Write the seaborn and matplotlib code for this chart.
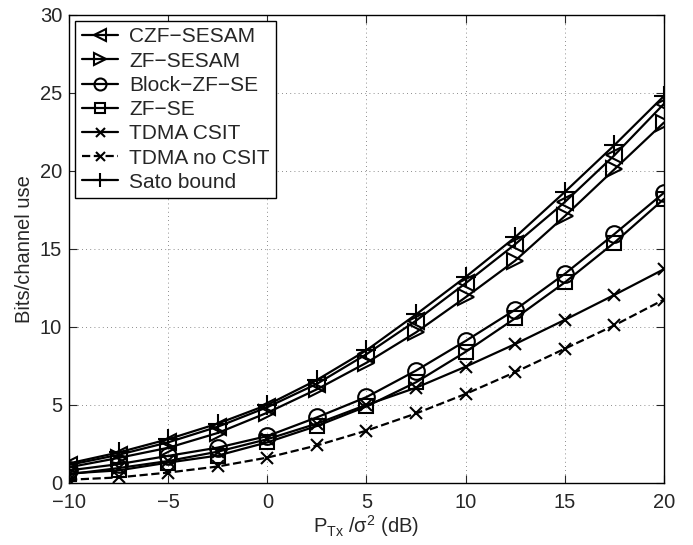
import numpy as np
import pandas as pd
import seaborn as sns
import matplotlib.pyplot as plt

# SNR points (dB)
snr = [-10, -7.5, -5, -2.5, 0, 2.5, 5, 7.5, 10, 12.5, 15, 17.5, 20]

# rates (bits/channel use)
czf_sesam = [1.15, 1.8, 2.6, 3.6, 4.85, 6.35, 8.25, 10.4, 12.8, 15.3, 18.0, 21.0, 24.3]
zf_sesam = [1.0, 1.6, 2.25, 3.2, 4.5, 6.0, 7.7, 9.65, 11.9, 14.25, 17.1, 20.1, 23.1]
block_zf_se = [0.8, 1.2, 1.73, 2.26, 3.0, 4.2, 5.5, 7.2, 9.1, 11.1, 13.4, 15.95, 18.6]
zf_se = [0.6, 0.8, 1.3, 1.75, 2.6, 3.65, 4.9, 6.45, 8.4, 10.55, 12.85, 15.4, 18.2]
tdma_csit = [0.55, 0.95, 1.4, 2.0, 2.8, 3.8, 5.0, 6.1, 7.45, 8.9, 10.45, 12.05, 13.7]
tdma_no_csit = [0.2, 0.35, 0.66, 1.05, 1.62, 2.4, 3.35, 4.45, 5.7, 7.1, 8.6, 10.1, 11.75]
sato = [1.25, 1.95, 2.8, 3.8, 5.0, 6.6, 8.5, 10.8, 13.2, 15.75, 18.65, 21.65, 24.8]

names = ["CZF\u2212SESAM", "ZF\u2212SESAM", "Block\u2212ZF\u2212SE", "ZF\u2212SE",
         "TDMA CSIT", "TDMA no CSIT", "Sato bound"]
series = [czf_sesam, zf_sesam, block_zf_se, zf_se, tdma_csit, tdma_no_csit, sato]
markers = ["<", ">", "o", "s", "x", "x", "+"]
styles = ["-", "-", "-", "-", "-", "--", "-"]
sizes = [12, 12, 12, 10, 9, 9, 14]

sns.set_style("ticks")
plt.rcParams["font.family"] = ["Liberation Sans", "DejaVu Sans"]
plt.rcParams["mathtext.default"] = "regular"

fig = plt.figure(figsize=(6.93, 5.45), dpi=100)
ax = fig.add_axes([0.0996, 0.114, 0.8584, 0.8585])

for name, vals, m, ls, ms in zip(names, series, markers, styles, sizes):
    sns.lineplot(x=snr, y=vals, ax=ax, color="black", linestyle=ls, linewidth=1.6,
                 marker=m, markersize=ms, markerfacecolor="none", markeredgecolor="black",
                 markeredgewidth=1.5, label=name)

ax.set_xlim(-10, 20)
ax.set_ylim(0, 30)
ax.set_xticks([-10, -5, 0, 5, 10, 15, 20])
ax.set_xticklabels(["\u221210", "\u22125", "0", "5", "10", "15", "20"])
ax.set_yticks([0, 5, 10, 15, 20, 25, 30])
ax.tick_params(direction="in", length=6, width=0.8, labelsize=14.5, top=True, right=True)
ax.tick_params(axis="x", pad=7)
ax.tick_params(axis="y", pad=5)
ax.grid(True, linestyle=(0, (1, 4)), color="black", linewidth=0.6, alpha=0.6)
for s in ax.spines.values():
    s.set_linewidth(1.0)
    s.set_color("black")

ax.set_xlabel("$P_{Tx}$ /$\\sigma^2$ (dB)", fontsize=14.5, labelpad=1)
ax.set_ylabel("Bits/channel use", fontsize=14.5, labelpad=4)

leg = ax.legend(loc="upper left", fontsize=15, frameon=True, fancybox=False, framealpha=1,
                edgecolor="black", handlelength=1.75, handletextpad=0.55, labelspacing=0.25,
                borderpad=0.3, borderaxespad=0.3, numpoints=1)
leg.get_frame().set_linewidth(1.0)
for h, ms in zip(leg.legend_handles, sizes):
    h.set_markersize(ms * 0.72)

plt.savefig("out.png", dpi=100)
